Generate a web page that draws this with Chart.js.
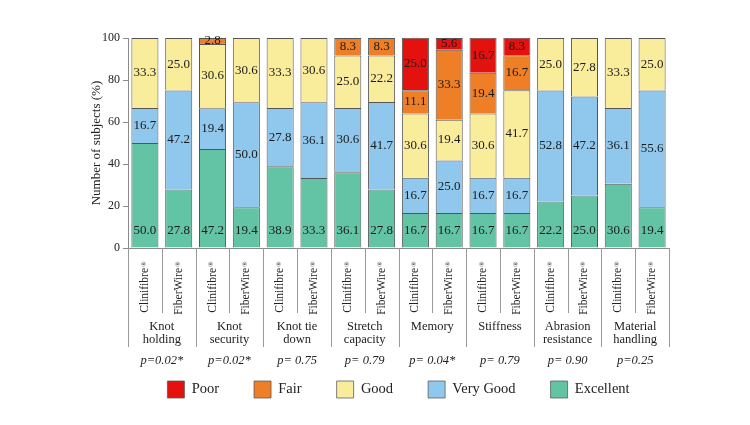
<!DOCTYPE html>
<html>
<head>
<meta charset="utf-8">
<script src="https://cdn.jsdelivr.net/npm/chart.js@4.4.0/dist/chart.umd.min.js"></script>
<style>
  html, body { margin: 0; padding: 0; background: #fff; }
</style>
</head>
<body>
<canvas id="chart" width="750" height="425"></canvas>
<script>
'use strict';

// groups under the x axis, each one has a Clinifibre and a FiberWire bar
var groups = [["Knot", "holding"], ["Knot", "security"], ["Knot tie", "down"], ["Stretch", "capacity"],
              ["Memory"], ["Stiffness"], ["Abrasion", "resistance"], ["Material", "handling"]];
var brands = ["Clinifibre", "FiberWire"];
var pValues = ["p=0.02*", "p=0.02*", "p= 0.75", "p= 0.79", "p= 0.04*", "p= 0.79", "p= 0.90", "p=0.25"];

// % of subjects per bar (Clinifibre, FiberWire, Clinifibre, ...)
var excellent = [50.0, 27.8, 47.2, 19.4, 38.9, 33.3, 36.1, 27.8, 16.7, 16.7, 16.7, 16.7, 22.2, 25.0, 30.6, 19.4];
var veryGood  = [16.7, 47.2, 19.4, 50.0, 27.8, 36.1, 30.6, 41.7, 16.7, 25.0, 16.7, 16.7, 52.8, 47.2, 36.1, 55.6];
var good      = [33.3, 25.0, 30.6, 30.6, 33.3, 30.6, 25.0, 22.2, 30.6, 19.4, 30.6, 41.7, 25.0, 27.8, 33.3, 25.0];
var fair      = [0, 0, 2.8, 0, 0, 0, 8.3, 8.3, 11.1, 33.3, 19.4, 16.7, 0, 0, 0, 0];
var poor      = [0, 0, 0, 0, 0, 0, 0, 0, 25.0, 5.6, 16.7, 8.3, 0, 0, 0, 0];

var yTicks = [0, 20, 40, 60, 80, 100];

var FONT = '"Liberation Serif", "Times New Roman", serif';

var labels = [];
groups.forEach(function() {
    brands.forEach(function(b) { labels.push(b); });
});

// the table under the bars: separators, registered marks, group names, p values
var bottomTable = {
    id: 'bottomTable',
    afterDraw: function(chart) {
        var ctx = chart.ctx;
        var area = chart.chartArea;
        var xs = chart.scales.x;
        var step = (area.right - area.left) / labels.length;
        ctx.save();
        ctx.strokeStyle = '#9a9a9a';
        ctx.lineWidth = 1;
        for (var i = 0; i <= labels.length; i++) {
            var px = Math.round(area.left + i * step) + 0.5;
            var len = (i % 2 === 0) ? 99 : 65;
            ctx.beginPath();
            ctx.moveTo(px, area.bottom);
            ctx.lineTo(px, area.bottom + len);
            ctx.stroke();
        }
        ctx.fillStyle = '#222';
        ctx.textAlign = 'center';
        ctx.textBaseline = 'middle';
        // small ® after each brand name
        ctx.font = '7px ' + FONT;
        labels.forEach(function(l, i) {
            ctx.save();
            ctx.translate(xs.getPixelForValue(i) - 1, area.bottom + 16);
            ctx.rotate(-Math.PI / 2);
            ctx.fillText('\u00AE', 0, 0);
            ctx.restore();
        });
        groups.forEach(function(g, j) {
            var cx = area.left + (2 * j + 1) * step;
            ctx.font = '12.5px ' + FONT;
            g.forEach(function(line, k) {
                ctx.fillText(line, cx, area.bottom + 79 + k * 13);
            });
            ctx.font = 'italic 12.5px ' + FONT;
            ctx.fillText(pValues[j], cx, area.bottom + 113);
        });
        ctx.restore();
    }
};

// numbers written inside the segments
var segmentValues = {
    id: 'segmentValues',
    afterDatasetsDraw: function(chart) {
        var ctx = chart.ctx;
        ctx.save();
        ctx.fillStyle = '#1a1a1a';
        ctx.font = '13px ' + FONT;
        ctx.textAlign = 'center';
        ctx.textBaseline = 'middle';
        chart.data.datasets.forEach(function(ds, d) {
            chart.getDatasetMeta(d).data.forEach(function(bar, i) {
                var v = ds.data[i];
                if (!v) return;
                var y = (d === 0) ? bar.base - 17 : (bar.y + bar.base) / 2;
                ctx.fillText(v.toFixed(1), bar.x, y);
            });
        });
        ctx.restore();
    }
};

function makeSet(name, values, color) {
    return {
        label: name,
        data: values,
        backgroundColor: color,
        borderColor: '#555',
        borderWidth: { top: 1, bottom: 0, left: 1, right: 1 },
        borderSkipped: false,
        barPercentage: 0.8,
        categoryPercentage: 1.0
    };
}

var ctx = document.getElementById('chart').getContext('2d');
var myChart = new Chart(ctx, {
    type: 'bar',
    data: {
        labels: labels,
        datasets: [
            makeSet('Excellent', excellent, '#63c3a5'),
            makeSet('Very Good', veryGood, '#8fc8ec'),
            makeSet('Good', good, '#f9ec9b'),
            makeSet('Fair', fair, '#ee7f26'),
            makeSet('Poor', poor, '#e3120e')
        ]
    },
    options: {
        responsive: false,
        animation: false,
        layout: { padding: { left: 85, right: 81, top: 38, bottom: 17 } },
        scales: {
            x: {
                stacked: true,
                grid: { display: false, drawTicks: false },
                border: { display: true, color: '#8a8a8a' },
                ticks: {
                    minRotation: 90,
                    maxRotation: 90,
                    autoSkip: false,
                    padding: 20,
                    color: '#222',
                    font: { family: FONT, size: 11.5 }
                },
                afterFit: function(scale) { scale.height = 98; }
            },
            y: {
                stacked: true,
                min: 0,
                max: 100,
                afterBuildTicks: function(scale) {
                    scale.ticks = yTicks.map(function(v) { return { value: v }; });
                },
                grid: { drawOnChartArea: false, drawTicks: true, tickLength: 5, color: '#8a8a8a' },
                border: { display: true, color: '#8a8a8a' },
                ticks: { padding: 3, color: '#222', font: { family: FONT, size: 12 } },
                title: {
                    display: true,
                    text: 'Number of subjects (%)',
                    color: '#222',
                    font: { family: FONT, size: 13 }
                },
                afterFit: function(scale) { scale.width = 43; }
            }
        },
        plugins: {
            legend: {
                position: 'bottom',
                reverse: true,
                fullSize: false,
                labels: {
                    boxWidth: 17,
                    boxHeight: 17,
                    padding: 35,
                    color: '#222',
                    font: { family: FONT, size: 14.5 }
                }
            },
            tooltip: { enabled: false }
        }
    },
    plugins: [segmentValues, bottomTable]
});
</script>
</body>
</html>
